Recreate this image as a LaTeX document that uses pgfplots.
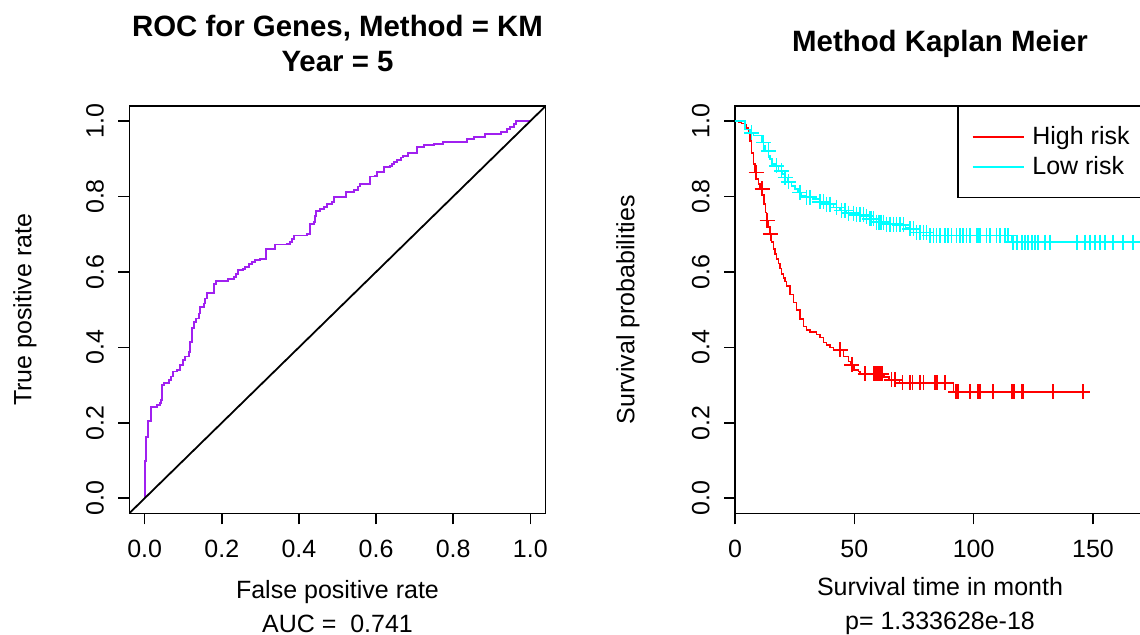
\documentclass[border=0pt]{standalone}
\usepackage{fontspec}
\setmainfont{Liberation Sans}
\usepackage{pgfplots}
\pgfplotsset{compat=1.18}
\definecolor{rpurple}{HTML}{A020F0}
\definecolor{rred}{HTML}{FF0000}
\definecolor{rcyan}{HTML}{00FFFF}

\pgfplotsset{
  rpanel/.style={
    scale only axis, anchor=south west,
    height=203.65pt,
    axis line style={line width=0.75pt},
    tick style={line width=0.75pt, black},
    tick align=outside, major tick length=5.5pt,
    tick pos=left, minor tick num=0,
    ymin=-0.04, ymax=1.04,
    ytick={0,0.2,0.4,0.6,0.8,1},
    yticklabels={0.0,0.2,0.4,0.6,0.8,1.0},
    every tick label/.append style={font=\fontsize{12.5}{15}\selectfont},
    yticklabel style={rotate=90, anchor=south, inner sep=0pt},
    xticklabel style={anchor=north, inner sep=0pt},
    yticklabel shift=7pt, xticklabel shift=7.5pt,
    label style={font=\fontsize{12.5}{17}\selectfont, align=center},
    xlabel style={at={(axis description cs:0.5,0)}, anchor=center, yshift=-46.6pt},
    every axis title shift=0pt,
    title style={at={(axis description cs:0.5,1)}, anchor=center, yshift=31pt,
      align=center, font=\fontsize{14.7}{17.5}\selectfont\bfseries},
  }
}

\begin{document}
\begin{tikzpicture}
% ROC panel
\begin{axis}[rpanel,
  at={(64.65pt,60.85pt)}, width=208.2pt,
  xmin=-0.04, xmax=1.04,
  xtick={0,0.2,0.4,0.6,0.8,1},
  xticklabels={0.0,0.2,0.4,0.6,0.8,1.0},
  title={ROC for Genes, Method = KM\\Year = 5},
  xlabel={False positive rate\\AUC = \ 0.741},
  ylabel={True positive rate},
  ylabel style={at={(axis description cs:-0.2505,0.5)}, anchor=center},
]
\addplot[rpurple, line width=0.9pt, const plot mark left] coordinates {
(0,0) (0,0.0985) (0.0043,0.1618) (0.0086,0.2040) (0.0164,0.2419) (0.0320,0.2480)
(0.0389,0.2524) (0.0415,0.2612) (0.0449,0.3008) (0.0493,0.3052) (0.0622,0.3140)
(0.0683,0.3228) (0.0735,0.3360) (0.0838,0.3404) (0.0925,0.3536) (0.0994,0.3668)
(0.1054,0.3755) (0.1141,0.3887) (0.1184,0.4151) (0.1227,0.4503) (0.1288,0.4679)
(0.1340,0.4767) (0.1400,0.4899) (0.1426,0.5075) (0.1530,0.5163) (0.1573,0.5295)
(0.1616,0.5444) (0.1789,0.5690) (0.1858,0.5752) (0.2161,0.5822) (0.2308,0.5866)
(0.2377,0.5954) (0.2411,0.6042) (0.2550,0.6086) (0.2610,0.6130) (0.2697,0.6218)
(0.2783,0.6262) (0.2869,0.6306) (0.2999,0.6350) (0.3155,0.6614) (0.3388,0.6728)
(0.3691,0.6746) (0.3777,0.6790) (0.3820,0.6878) (0.3863,0.6966) (0.4209,0.7010)
(0.4278,0.7274) (0.4382,0.7318) (0.4425,0.7493) (0.4451,0.7625) (0.4555,0.7669)
(0.4659,0.7713) (0.4728,0.7801) (0.4857,0.7863) (0.4901,0.7995) (0.5220,0.8109)
(0.5376,0.8127) (0.5437,0.8179) (0.5523,0.8267) (0.5592,0.8329) (0.5851,0.8531)
(0.5981,0.8549) (0.6024,0.8654) (0.6197,0.8786) (0.6370,0.8813) (0.6413,0.8857)
(0.6474,0.8918) (0.6543,0.8971) (0.6647,0.9032) (0.6698,0.9077) (0.6819,0.9147)
(0.7061,0.9323) (0.7234,0.9358) (0.7493,0.9402) (0.7736,0.9446) (0.8358,0.9516)
(0.8531,0.9587) (0.8833,0.9648) (0.9239,0.9719) (0.9395,0.9780) (0.9481,0.9842)
(0.9568,0.9912) (0.9637,1.0000) (1.0000,1.0000)
};
\addplot[black, line width=0.9pt] coordinates {(-0.04,-0.04) (1.04,1.04)};
\end{axis}

% Kaplan-Meier panel
\begin{axis}[rpanel,
  at={(367.5pt,60.85pt)}, width=205pt,
  xmin=0, xmax=171.8,
  xtick={0,50,100,150},
  xticklabels={0,50,100,150},
  title={Method Kaplan Meier},
  xlabel={Survival time in month\\p= 1.333628e-18},
  ylabel={Survival probabilities},
  ylabel style={at={(axis description cs:-0.261,0.5)}, anchor=center},
  legend style={at={(axis description cs:0.5415,1)}, anchor=north west,
    draw=black, line width=0.75pt, fill=white,
    inner xsep=7pt, inner ysep=9.25pt, row sep=3pt,
    font=\fontsize{12.5}{15}\selectfont,
    nodes={inner sep=0pt, text height=9.5pt, text depth=2.5pt}},
  legend cell align=left,
  legend image code/.code={\draw[#1, line width=0.8pt] (0pt,0pt) -- (25.5pt,0pt);
    \path (29.5pt,0pt);},
]
\addplot[rred, line width=0.8pt, const plot mark left] coordinates {
(0,1.000) (1.40,0.997) (2.79,0.994) (4.19,0.989) (4.89,0.982) (5.59,0.969)
(6.28,0.947) (6.98,0.916) (7.68,0.886) (8.38,0.864) (9.08,0.846) (9.78,0.833)
(10.47,0.820) (11.45,0.805) (12.15,0.780) (12.71,0.758) (13.27,0.736) (13.97,0.719)
(14.66,0.701) (15.36,0.679) (16.06,0.661) (16.76,0.648) (17.46,0.635) (18.15,0.622)
(18.85,0.609) (19.55,0.595) (20.25,0.584) (20.95,0.575) (21.65,0.563) (23.04,0.540)
(24.44,0.519) (25.84,0.499) (27.23,0.475) (28.63,0.455) (30.03,0.446) (31.42,0.440)
(34.22,0.434) (35.61,0.426) (37.01,0.413) (38.41,0.406) (39.80,0.400) (41.20,0.393)
(45.4,0.376) (47.5,0.362) (48.5,0.354) (49.9,0.340) (51.7,0.336) (52.5,0.330)
(62.5,0.322) (64.5,0.314) (69.0,0.306) (91.5,0.282) (145.8,0.282)
};
\addlegendentry{\makebox[58pt][l]{High risk}}
\addplot[rcyan, line width=0.8pt, const plot mark left] coordinates {
(0,1.000) (4.2,0.978) (6.3,0.969) (7.7,0.962) (11.2,0.943) (11.9,0.934)
(12.6,0.921) (14.0,0.908) (14.7,0.899) (15.4,0.886) (16.8,0.881) (18.2,0.868)
(19.6,0.859) (20.9,0.850) (22.3,0.839) (23.7,0.828) (25.1,0.820) (26.5,0.811)
(27.9,0.802) (30.0,0.798) (32.8,0.793) (35.6,0.786) (38.4,0.780) (41.2,0.771)
(44.0,0.763) (46.8,0.756) (49.6,0.751) (53.8,0.748) (56.5,0.741) (59.3,0.732)
(63.5,0.727) (69.1,0.725) (71.5,0.718) (73.3,0.714) (76.1,0.705) (81.7,0.697)
(116.0,0.679) (166.7,0.679)
};
\addlegendentry{\makebox[58pt][l]{Low risk}}
% censoring marks
\addplot[rred, only marks, mark=+, mark size=3.75pt, line width=0.8pt, forget plot] coordinates {
(8.9,0.864) (11.4,0.820) (13.5,0.736) (14.8,0.701) (44.0,0.393) (48.9,0.354)
(54.5,0.330) (58.2,0.330) (59.1,0.330) (60.0,0.330) (60.7,0.330) (61.5,0.330)
(65.6,0.314) (67.0,0.314) (70.2,0.306) (73.3,0.306) (74.4,0.306) (77.5,0.306)
(79.0,0.306) (83.8,0.306) (84.6,0.306) (88.0,0.306) (92.6,0.282) (93.4,0.282)
(98.5,0.282) (101.8,0.282) (102.6,0.282) (108.1,0.282) (116.0,0.282) (116.8,0.282)
(120.2,0.282) (120.7,0.282) (133.2,0.282) (145.8,0.282)
};
\addplot[rcyan, only marks, mark=+, mark size=3.75pt, line width=0.8pt, forget plot] coordinates {
(6.98,0.969) (11.87,0.943) (13.97,0.921) (17.46,0.881) (19.55,0.868) (20.95,0.850)
(22.34,0.839) (27.23,0.811) (30.03,0.798) (31.42,0.798) (35.61,0.786) (37.01,0.786)
(38.41,0.780) (39.80,0.780) (42.60,0.771) (44.70,0.763) (46.09,0.763) (47.49,0.756)
(49.58,0.756) (50.98,0.751) (52.38,0.751) (53.77,0.751) (55.17,0.748) (56.56,0.741)
(57.26,0.741) (57.96,0.741) (59.36,0.732) (60.05,0.732) (60.75,0.732) (61.45,0.732)
(62.15,0.732) (63.54,0.727) (64.94,0.727) (66.33,0.727) (67.73,0.727) (69.13,0.725)
(70.52,0.725) (73.32,0.714) (74.71,0.714) (76.11,0.705) (77.51,0.705) (78.90,0.705)
(80.30,0.705) (81.70,0.697) (83.09,0.697) (84.49,0.697) (85.88,0.697) (87.98,0.697)
(89.37,0.697) (90.77,0.697) (92.86,0.697) (94.26,0.697) (95.66,0.697) (97.05,0.697)
(98.45,0.697) (101.24,0.697) (101.94,0.697) (102.64,0.697) (105.43,0.697) (106.83,0.697)
(109.62,0.697) (111.02,0.697) (113.11,0.697) (114.51,0.697) (116.5,0.679) (118.1,0.679)
(120.2,0.679) (121.5,0.679) (122.7,0.679) (124.4,0.679) (125.7,0.679) (126.9,0.679)
(129.9,0.679) (132.0,0.679) (143.3,0.679) (146.6,0.679) (148.7,0.679) (150.8,0.679)
(153.0,0.679) (155.0,0.679) (158.4,0.679) (162.5,0.679) (166.7,0.679)
};
\end{axis}
\pgfresetboundingbox
\path[use as bounding box] (0,0) rectangle (570pt,317.5pt);
\end{tikzpicture}
\end{document}
